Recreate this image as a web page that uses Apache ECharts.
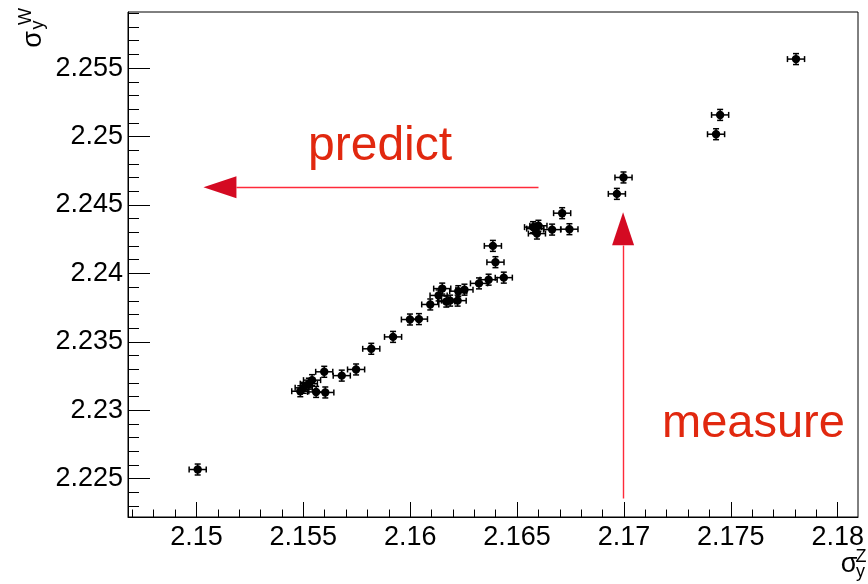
<!DOCTYPE html>
<html><head><meta charset="utf-8">
<script src="https://cdn.jsdelivr.net/npm/echarts@6/dist/echarts.min.js"></script>
<style>html,body{margin:0;padding:0;background:#fff}#c{width:868px;height:584px}</style>
</head><body><div id="c"></div>
<script>
// ---- data ----
const xValues = [2.15006, 2.17805, 2.17450, 2.17431, 2.16998, 2.16967, 2.16711, 2.16745, 2.16664, 2.16575,
  2.16600, 2.16585, 2.16593, 2.16387, 2.16399, 2.16438, 2.16367, 2.16322, 2.16254, 2.16225,
  2.16222, 2.16187, 2.16169, 2.16150, 2.16133, 2.16094, 2.16041, 2.15999, 2.15920, 2.15818,
  2.15747, 2.15680, 2.15598, 2.15541, 2.15526, 2.15502, 2.15486, 2.15560, 2.15603];
const yValues = [2.22567, 2.25566, 2.25158, 2.25017, 2.24701, 2.24581, 2.24440, 2.24323, 2.24320, 2.24338,
  2.24348, 2.24327, 2.24291, 2.24201, 2.24082, 2.23969, 2.23954, 2.23927, 2.23881, 2.23870,
  2.23801, 2.23801, 2.23794, 2.23889, 2.23839, 2.23773, 2.23666, 2.23663, 2.23536, 2.23449,
  2.23298, 2.23253, 2.23281, 2.23220, 2.23194, 2.23164, 2.23139, 2.23134, 2.23130];
const xError = 0.0004;
const yError = 0.0004;
const xTickLabels = [2.15, 2.155, 2.16, 2.165, 2.17, 2.175, 2.18];
const yTickLabels = [2.225, 2.23, 2.235, 2.24, 2.245, 2.25, 2.255];
const xRange = [2.1468, 2.18095];
const yRange = [2.2222, 2.2591];
const minorStep = 0.001;
const predictArrow = [[2.16599, 2.2463], [2.1511, 2.2463]];
const measureArrow = [[2.16996, 2.22357], [2.16996, 2.24327]];
const predictText = 'predict';
const measureText = 'measure';

// ---- helpers ----
function minorTicks(lo, hi) {
  const out = [];
  for (let i = Math.ceil(lo / minorStep - 1e-6); i * minorStep <= hi + 1e-9; i++) out.push(Number((i * minorStep).toFixed(3)));
  return out;
}
const FONT = 'Liberation Sans';
const fmt = v => String(parseFloat(Number(v).toFixed(4)));
const points = xValues.map((x, i) => [x, yValues[i], xError, yError]);
const arrows = [predictArrow, measureArrow].map(a => [a[0][0], a[0][1], a[1][0], a[1][1]]);

const chart = echarts.init(document.getElementById('c'), null, {renderer: 'canvas'});
const gridPos = {left: 128, right: 10, top: 12, bottom: 67};
const axisLineStyle = {color: '#000', width: 1};
const ARROW_LINE = '#ff2a3a';
const ARROW_HEAD = '#d40a22';

chart.setOption({
  animation: false,
  backgroundColor: '#fff',
  grid: [
    Object.assign({show: true, borderColor: '#000', borderWidth: 1, backgroundColor: 'transparent', containLabel: false}, gridPos),
    Object.assign({show: false, containLabel: false}, gridPos)
  ],
  xAxis: [
    {type: 'value', gridIndex: 0, min: xRange[0], max: xRange[1], position: 'bottom',
     axisLine: {show: true, lineStyle: axisLineStyle},
     axisTick: {show: true, inside: true, length: 15, customValues: xTickLabels, lineStyle: axisLineStyle},
     axisLabel: {show: true, customValues: xTickLabels, formatter: fmt, color: '#000', fontFamily: FONT, fontSize: 27, margin: 7},
     splitLine: {show: false}},
    {type: 'value', gridIndex: 1, min: xRange[0], max: xRange[1], position: 'bottom',
     axisLine: {show: false},
     axisTick: {show: true, inside: true, length: 7.5, customValues: minorTicks(xRange[0], xRange[1]), lineStyle: axisLineStyle},
     axisLabel: {show: false}, splitLine: {show: false}}
  ],
  yAxis: [
    {type: 'value', gridIndex: 0, min: yRange[0], max: yRange[1], position: 'left',
     axisLine: {show: true, lineStyle: axisLineStyle},
     axisTick: {show: true, inside: true, length: 22, customValues: yTickLabels, lineStyle: axisLineStyle},
     axisLabel: {show: true, customValues: yTickLabels, formatter: fmt, color: '#000', fontFamily: FONT, fontSize: 27, margin: 5},
     splitLine: {show: false}},
    {type: 'value', gridIndex: 1, min: yRange[0], max: yRange[1], position: 'left',
     axisLine: {show: false},
     axisTick: {show: true, inside: true, length: 11, customValues: minorTicks(yRange[0], yRange[1]), lineStyle: axisLineStyle},
     axisLabel: {show: false}, splitLine: {show: false}}
  ],
  series: [
    {
      type: 'custom', xAxisIndex: 0, yAxisIndex: 0, data: points, silent: true,
      renderItem: function (params, api) {
        const x = api.value(0), y = api.value(1), ex = api.value(2), ey = api.value(3);
        const c = api.coord([x, y]);
        const l = api.coord([x - ex, y]), r = api.coord([x + ex, y]);
        const t = api.coord([x, y + ey]), b = api.coord([x, y - ey]);
        const cap = 3;
        const st = {stroke: '#000', lineWidth: 1.5};
        return {type: 'group', children: [
          {type: 'line', shape: {x1: l[0], y1: c[1], x2: r[0], y2: c[1]}, style: st},
          {type: 'line', shape: {x1: c[0], y1: t[1], x2: c[0], y2: b[1]}, style: st},
          {type: 'line', shape: {x1: l[0], y1: c[1] - cap, x2: l[0], y2: c[1] + cap}, style: st},
          {type: 'line', shape: {x1: r[0], y1: c[1] - cap, x2: r[0], y2: c[1] + cap}, style: st},
          {type: 'line', shape: {x1: c[0] - cap, y1: t[1], x2: c[0] + cap, y2: t[1]}, style: st},
          {type: 'line', shape: {x1: c[0] - cap, y1: b[1], x2: c[0] + cap, y2: b[1]}, style: st},
          {type: 'circle', shape: {cx: c[0], cy: c[1], r: 4.2}, style: {fill: '#000'}}
        ]};
      }
    },
    {
      // annotation arrows: line from start to arrowhead centre, triangle head
      type: 'custom', xAxisIndex: 0, yAxisIndex: 0, data: arrows, silent: true,
      renderItem: function (params, api) {
        const p0 = api.coord([api.value(0), api.value(1)]);
        const p1 = api.coord([api.value(2), api.value(3)]);
        const dx = p1[0] - p0[0], dy = p1[1] - p0[1];
        const len = Math.sqrt(dx * dx + dy * dy);
        const ux = dx / len, uy = dy / len;
        const hl = 33, hw = 11;
        const tip = [p1[0] + ux * hl / 2, p1[1] + uy * hl / 2];
        const base = [p1[0] - ux * hl / 2, p1[1] - uy * hl / 2];
        const px = -uy, py = ux;
        return {type: 'group', children: [
          {type: 'line', shape: {x1: Math.round(p0[0]) + 0.5, y1: Math.round(p0[1]) + 0.5, x2: Math.round(base[0]) + 0.5, y2: Math.round(base[1]) + 0.5},
           style: {stroke: ARROW_LINE, lineWidth: 1.4, opacity: 1}},
          {type: 'polygon', shape: {points: [tip, [base[0] + px * hw, base[1] + py * hw], [base[0] - px * hw, base[1] - py * hw]]},
           style: {fill: ARROW_HEAD}}
        ]};
      }
    }
  ],
  graphic: [
    {type: 'text', left: 308, top: 123, style: {text: predictText, fill: '#e1280f', font: '48px "Liberation Sans"'}},
    {type: 'text', left: 662, top: 401, style: {text: measureText, fill: '#e1280f', font: '47px "Liberation Sans"'}},
    // x-axis title sigma_y^Z
    {type: 'text', x: 849, y: 565, style: {text: 'σ', fill: '#000', font: '27px "Liberation Sans"', align: 'center', verticalAlign: 'middle'}},
    {type: 'text', x: 861, y: 557, style: {text: 'Z', fill: '#000', font: '18px "Liberation Sans"', align: 'center', verticalAlign: 'middle'}},
    {type: 'text', x: 860.5, y: 572, style: {text: 'y', fill: '#000', font: '18px "Liberation Sans"', align: 'center', verticalAlign: 'middle'}},
    // y-axis title sigma_y^W (rotated)
    {type: 'text', x: 34, y: 39.5, rotation: Math.PI / 2, style: {text: 'σ', fill: '#000', font: '27px "Liberation Sans"', align: 'center', verticalAlign: 'middle'}},
    {type: 'text', x: 26, y: 16.5, rotation: Math.PI / 2, style: {text: 'W', fill: '#000', font: '18px "Liberation Sans"', align: 'center', verticalAlign: 'middle'}},
    {type: 'text', x: 38, y: 25, rotation: Math.PI / 2, style: {text: 'y', fill: '#000', font: '18px "Liberation Sans"', align: 'center', verticalAlign: 'middle'}}
  ]
});
</script></body></html>
